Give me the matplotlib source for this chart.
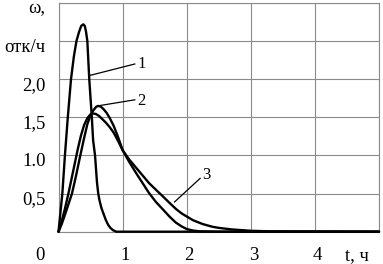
import numpy as np
import matplotlib.pyplot as plt
from matplotlib.transforms import ScaledTranslation

# ---------------------------------------------------------------------------
# Data (t in hours, omega in failures per hour)
# ---------------------------------------------------------------------------
t1 = [0, 0.03, 0.06, 0.10, 0.145, 0.195, 0.24, 0.28, 0.32, 0.355, 0.386,
      0.41, 0.43, 0.45, 0.48, 0.52, 0.54, 0.57, 0.60, 0.62, 0.64, 0.67,
      0.70, 0.74, 0.775, 0.81, 0.85, 0.9, 5.0]
w1 = [0, 0.25, 0.5, 1.0, 1.5, 2.0, 2.3, 2.5, 2.62, 2.7, 2.72,
      2.7, 2.62, 2.5, 2.0, 1.5, 1.2, 1.0, 0.65, 0.5, 0.41, 0.31,
      0.24, 0.15, 0.09, 0.05, 0.02, 0, 0]

t2 = [0, 0.05, 0.1, 0.155, 0.21, 0.27, 0.34, 0.40, 0.45, 0.50, 0.55, 0.59,
      0.62, 0.66, 0.70, 0.75, 0.80, 0.86, 0.93, 1.0, 1.1, 1.21, 1.31, 1.41,
      1.52, 1.62, 1.73, 1.83, 1.92, 2.0, 2.1, 2.2, 2.5, 3.0, 5.0]
w2 = [0, 0.1, 0.22, 0.36, 0.5, 0.72, 1.0, 1.23, 1.41, 1.53, 1.6, 1.64,
      1.65, 1.64, 1.61, 1.56, 1.49, 1.39, 1.24, 1.07, 0.92, 0.77, 0.64, 0.51,
      0.39, 0.30, 0.2, 0.12, 0.07, 0.035, 0.015, 0.005, 0, 0, 0]

t3 = [0, 0.05, 0.1, 0.155, 0.2, 0.25, 0.3, 0.35, 0.4, 0.45, 0.5, 0.54,
      0.58, 0.63, 0.68, 0.74, 0.80, 0.86, 0.93, 1.0, 1.1, 1.21, 1.31, 1.41,
      1.52, 1.62, 1.73, 1.83, 1.92, 2.0, 2.1, 2.25, 2.4, 2.5, 2.7, 3.0, 3.3, 5.0]
w3 = [0, 0.14, 0.3, 0.5, 0.68, 0.88, 1.08, 1.26, 1.4, 1.49, 1.54, 1.55,
      1.545, 1.52, 1.48, 1.43, 1.37, 1.30, 1.19, 1.07, 0.95, 0.84, 0.74, 0.64,
      0.55, 0.47, 0.38, 0.30, 0.24, 0.20, 0.15, 0.10, 0.065, 0.05, 0.03, 0.012, 0.005, 0]

y_ticks = [0.5, 1.0, 1.5, 2.0, 2.5, 3.0]
y_labels = ['0,5', '1.0', '1,5', '2,0', 'отк/ч', 'ω,']
x_ticks = [1, 2, 3, 4]
x_labels = ['1', '2', '3', '4']

# callouts: (label, line start, line end, text position)
callouts = [
    ('1', (0.49, 2.05), (1.19, 2.20), (1.30, 2.20)),
    ('2', (0.61, 1.65), (1.19, 1.73), (1.30, 1.71)),
    ('3', (1.81, 0.39), (2.21, 0.70), (2.31, 0.74)),
]

# ---------------------------------------------------------------------------
# Figure
# ---------------------------------------------------------------------------
plt.rcParams['font.family'] = ['Liberation Serif', 'DejaVu Serif']

fig = plt.figure(figsize=(3.83, 2.64), dpi=100)
ax = fig.add_axes([58.5/383, 1 - 231.7/264, (379 - 58.5)/383, (231.7 - 3)/264])

ax.set_xlim(0, 5)
ax.set_ylim(0, 3)
ax.set_xticks(np.arange(0, 6, 1))
ax.set_yticks(np.arange(0, 3.01, 0.5))
ax.grid(True, color='#8a8a8a', lw=0.8)
for s in ax.spines.values():
    s.set_color('#8a8a8a')
    s.set_linewidth(0.8)

for t, w in [(t1, w1), (t2, w2), (t3, w3)]:
    ax.plot(t, w, color='black', lw=1.7, solid_joinstyle='round',
            solid_capstyle='round', clip_on=False, zorder=3)

for lab, p0, p1, pt in callouts:
    ax.plot([p0[0], p1[0]], [p0[1], p1[1]], color='black', lw=0.9, zorder=3)
    ax.text(pt[0], pt[1], lab, fontsize=12, ha='center', va='center')

# tick labels (sit a little below their grid lines, as in the original)
ax.tick_params(length=0, labelbottom=False, labelleft=False)
down = ScaledTranslation(0, -6/100, fig.dpi_scale_trans)
ytr = ax.get_yaxis_transform() + ScaledTranslation(-13/100, 0, fig.dpi_scale_trans) + down
for v, lab in zip(y_ticks, y_labels):
    ax.text(0, v, lab, transform=ytr, ha='right', va='center', fontsize=13.5)

xtr = ax.get_xaxis_transform() + ScaledTranslation(0, -24/100, fig.dpi_scale_trans)
for v, lab in zip(x_ticks, x_labels):
    ax.text(v + 0.04, 0, lab, transform=xtr, ha='center', va='center', fontsize=13.5)
ax.text(-0.29, 0, '0', transform=xtr, ha='center', va='center', fontsize=13.5)
ax.text(4.65, 0, 't, ч', transform=xtr, ha='center', va='center', fontsize=13.5)

fig.savefig('out.png', dpi=100)
